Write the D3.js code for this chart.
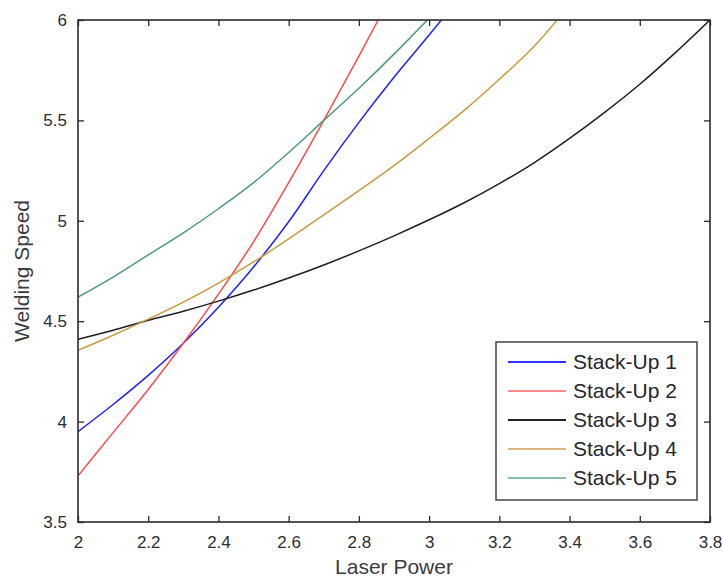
<!DOCTYPE html>
<html>
<head>
<meta charset="utf-8">
<script src="https://cdn.jsdelivr.net/npm/d3@7"></script>
<style>
  html, body { margin: 0; padding: 0; background: #fff; }
  svg { display: block; }
  text { font-family: "Liberation Sans", Arial, sans-serif; }
</style>
</head>
<body>
<svg id="chart" width="723" height="578"></svg>
<script>
// Laser power (x) versus welding speed (y) for five stack-ups
const seriesNames = ["Stack-Up 1", "Stack-Up 2", "Stack-Up 3", "Stack-Up 4", "Stack-Up 5"];
const seriesColors = ["#1f1fff", "#ff4a4a", "#1e1e1e", "#c99a3e", "#4b9a7a"];
const legendColors = ["#3030ff", "#ff8a8a", "#222222", "#dcb680", "#8cbfa8"];

const stack1 = [[2.0, 3.95], [2.1, 4.085], [2.2, 4.23], [2.3, 4.39], [2.4, 4.57], [2.5, 4.77],
                [2.6, 4.995], [2.7, 5.25], [2.8, 5.49], [2.9, 5.715], [3.0, 5.925], [3.035, 6.0]];
const stack2 = [[2.0, 3.73], [2.1, 3.945], [2.2, 4.16], [2.3, 4.39], [2.4, 4.635], [2.5, 4.895],
                [2.6, 5.19], [2.7, 5.5], [2.8, 5.82], [2.855, 6.0]];
const stack3 = [[2.0, 4.41], [2.1, 4.455], [2.2, 4.505], [2.3, 4.55], [2.4, 4.6], [2.5, 4.655],
                [2.6, 4.715], [2.7, 4.78], [2.8, 4.85], [2.9, 4.925], [3.0, 5.005], [3.1, 5.09],
                [3.2, 5.185], [3.3, 5.29], [3.4, 5.41], [3.5, 5.54], [3.6, 5.68], [3.7, 5.835], [3.8, 6.0]];
const stack4 = [[2.0, 4.355], [2.1, 4.43], [2.2, 4.51], [2.3, 4.595], [2.4, 4.69], [2.5, 4.795],
                [2.6, 4.91], [2.7, 5.03], [2.8, 5.15], [2.9, 5.275], [3.0, 5.41], [3.1, 5.55],
                [3.2, 5.705], [3.3, 5.87], [3.365, 6.0]];
const stack5 = [[2.0, 4.62], [2.1, 4.72], [2.2, 4.83], [2.3, 4.94], [2.4, 5.06], [2.5, 5.19],
                [2.6, 5.34], [2.7, 5.5], [2.8, 5.66], [2.9, 5.83], [2.995, 6.0]];

const xTicks = [2, 2.2, 2.4, 2.6, 2.8, 3, 3.2, 3.4, 3.6, 3.8];
const yTicks = [3.5, 4, 4.5, 5, 5.5, 6];
const xLabel = "Laser Power";
const yLabel = "Welding Speed";

const series = [stack1, stack2, stack3, stack4, stack5];

const svg = d3.select("#chart");
const margin = { left: 78, top: 20, right: 13, bottom: 56 };
const W = 723, H = 578;
const x = d3.scaleLinear().domain([2, 3.8]).range([margin.left, W - margin.right]);
const y = d3.scaleLinear().domain([3.5, 6]).range([H - margin.bottom, margin.top]);
const fmt = d3.format("~g");

svg.append("defs").append("clipPath").attr("id", "plot-clip")
  .append("rect")
  .attr("x", x.range()[0]).attr("y", y.range()[1])
  .attr("width", x.range()[1] - x.range()[0])
  .attr("height", y.range()[0] - y.range()[1]);

// Curves
const line = d3.line().x(d => x(d[0])).y(d => y(d[1])).curve(d3.curveMonotoneX);
svg.append("g").attr("clip-path", "url(#plot-clip)")
  .selectAll("path").data(series).join("path")
  .attr("d", line)
  .attr("fill", "none")
  .attr("stroke", (d, i) => seriesColors[i])
  .attr("stroke-width", 1.5);

// Axes with inward ticks on all four sides
const tickLen = 6;
const axisColor = "#2a2a2a";
function styleAxis(g, showText) {
  g.select(".domain").remove();
  g.selectAll(".tick line").attr("stroke", axisColor).attr("stroke-width", 1.3);
  g.selectAll(".tick text")
    .attr("fill", "#2c2c34")
    .attr("font-size", 17)
    .style("display", showText ? null : "none");
}

svg.append("g")
  .attr("transform", `translate(0,${y.range()[0]})`)
  .call(d3.axisBottom(x).tickValues(xTicks).tickFormat(fmt).tickSize(-tickLen).tickPadding(14))
  .call(g => styleAxis(g, true));

svg.append("g")
  .attr("transform", `translate(0,${y.range()[1]})`)
  .call(d3.axisTop(x).tickValues(xTicks).tickSize(-tickLen))
  .call(g => styleAxis(g, false));

svg.append("g")
  .attr("transform", `translate(${x.range()[0]},0)`)
  .call(d3.axisLeft(y).tickValues(yTicks).tickFormat(fmt).tickSize(-tickLen).tickPadding(11))
  .call(g => styleAxis(g, true));

svg.append("g")
  .attr("transform", `translate(${x.range()[1]},0)`)
  .call(d3.axisRight(y).tickValues(yTicks).tickSize(-tickLen))
  .call(g => styleAxis(g, false));

// Plot box
svg.append("rect")
  .attr("x", x.range()[0]).attr("y", y.range()[1])
  .attr("width", x.range()[1] - x.range()[0])
  .attr("height", y.range()[0] - y.range()[1])
  .attr("fill", "none").attr("stroke", axisColor).attr("stroke-width", 1.6);

// Axis titles
svg.append("text")
  .attr("x", (x.range()[0] + x.range()[1]) / 2)
  .attr("y", 574)
  .attr("text-anchor", "middle")
  .attr("font-size", 21)
  .attr("fill", "#3a3a42")
  .text(xLabel);

svg.append("text")
  .attr("transform", `translate(29,${(y.range()[0] + y.range()[1]) / 2}) rotate(-90)`)
  .attr("text-anchor", "middle")
  .attr("font-size", 21)
  .attr("fill", "#3a3a42")
  .text(yLabel);

// Legend
const lg = svg.append("g").attr("transform", "translate(496,342)");
lg.append("rect")
  .attr("width", 201).attr("height", 158)
  .attr("fill", "#fff").attr("stroke", "#444").attr("stroke-width", 1.5);
const rows = lg.selectAll("g.row").data(seriesNames).join("g")
  .attr("class", "row")
  .attr("transform", (d, i) => `translate(0,${20 + i * 29})`);
rows.append("line")
  .attr("x1", 12).attr("x2", 70)
  .attr("stroke", (d, i) => legendColors[i])
  .attr("stroke-width", 1.8);
rows.append("text")
  .attr("x", 77).attr("dy", "0.35em")
  .attr("font-size", 21)
  .attr("fill", "#26262e")
  .text(d => d);
</script>
</body>
</html>
